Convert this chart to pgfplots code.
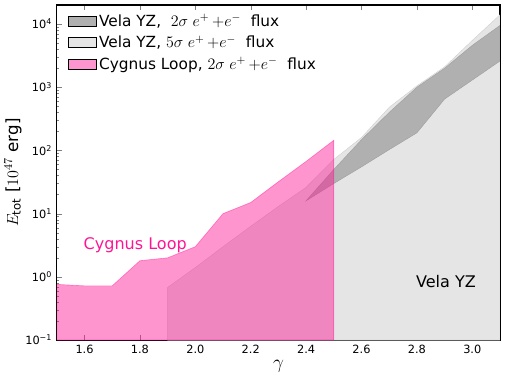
\documentclass[border=0pt]{standalone}
\usepackage{pgfplots}
\pgfplotsset{compat=1.18}
\usepackage{fontspec}
\setmainfont{DejaVu Sans}
\definecolor{deeppink}{RGB}{255,20,147}
\definecolor{velalight}{RGB}{229,229,229}
\definecolor{veladark}{RGB}{176,176,176}

\begin{document}
\begin{tikzpicture}
  \begin{axis}[
      scale only axis,
      width=332pt, height=251pt,
      ymode=log,
      xmin=1.5, xmax=3.1,
      ymin=0.1, ymax=20000,
      xtick={1.6,1.8,2.0,2.2,2.4,2.6,2.8,3.0},
      xticklabel style={/pgf/number format/.cd, fixed, fixed zerofill, precision=1},
      /pgf/number format/assume math mode=true,
      ytick={0.1,1,10,100,1000,10000},
      yticklabels={10\textsuperscript{−1},10\textsuperscript{0},10\textsuperscript{1},10\textsuperscript{2},10\textsuperscript{3},10\textsuperscript{4}},
      tick label style={font=\fontsize{8.5}{10}\selectfont},
      tick align=inside,
      major tick length=4pt,
      minor tick length=2pt,
      axis line style={line width=0.8pt},
      xlabel={\fontsize{14}{16}\selectfont$\gamma$},
      ylabel={\fontsize{12.5}{14}\selectfont$E_{\rm tot}$ [$10^{47}$ erg]},
      xlabel style={yshift=2pt},
      ylabel style={yshift=-4pt},
      legend style={at={(0.015,0.99)}, anchor=north west, draw=none, fill=none,
        font=\fontsize{11.5}{13}\selectfont, row sep=1.5pt, cells={anchor=west}},
      legend image code/.code={\draw[#1] (0cm,-0.13cm) rectangle (0.74cm,0.13cm);},
    ]
    % Vela YZ, 5 sigma
    \addplot[fill=velalight, draw=velalight!90!black, line width=0.3pt, forget plot] coordinates {
      (1.9,0.1) (1.9,0.68) (2.0,1.4) (2.1,3.0) (2.2,6.3) (2.3,13) (2.4,26)
      (2.5,72) (2.6,160) (2.7,480) (2.8,1050) (2.9,2100) (3.0,5500) (3.1,14000)
      (3.1,0.1)
    } -- cycle;
    % Vela YZ, 2 sigma
    \addplot[fill=veladark, draw=veladark!90!black, line width=0.3pt, forget plot] coordinates {
      (2.4,16) (2.5,50) (2.6,148) (2.7,400) (2.8,1000) (2.9,2000) (3.0,4600) (3.1,9500)
      (3.1,2600) (3.0,1300) (2.9,650) (2.8,190) (2.7,103) (2.6,55) (2.5,30)
    } -- cycle;
    % Cygnus Loop, 2 sigma
    \addplot[fill=deeppink, fill opacity=0.45, draw=deeppink, draw opacity=0.45, line width=0.5pt, forget plot] coordinates {
      (1.5,0.1) (1.5,0.76) (1.6,0.72) (1.7,0.72) (1.8,1.8) (1.9,2.0) (2.0,3.0)
      (2.1,10) (2.2,15) (2.3,32) (2.4,67) (2.5,145) (2.5,0.1)
    } -- cycle;

    \addlegendimage{fill=veladark, draw=none}
    \addlegendentry{Vela YZ,\ \ $2\sigma\;e^+\,{+}e^-$\ \ flux}
    \addlegendimage{fill=velalight, draw=none}
    \addlegendentry{Vela YZ, $5\sigma\;e^+\,{+}e^-$\ \ flux}
    \addlegendimage{fill=deeppink, fill opacity=0.45, draw=none}
    \addlegendentry{Cygnus Loop, $2\sigma\;e^+\,{+}e^-$\ \ flux}

    \node[text=deeppink, font=\fontsize{12}{14}\selectfont] at (axis cs:1.783,3.2) {Cygnus Loop};
    \node[text=black, font=\fontsize{12}{14}\selectfont] at (axis cs:2.905,0.83) {Vela YZ};
  \end{axis}
  \path (current axis.east) ++(4.5pt,0);
  \path (current axis.north) ++(0,3.75pt);
\end{tikzpicture}
\end{document}
